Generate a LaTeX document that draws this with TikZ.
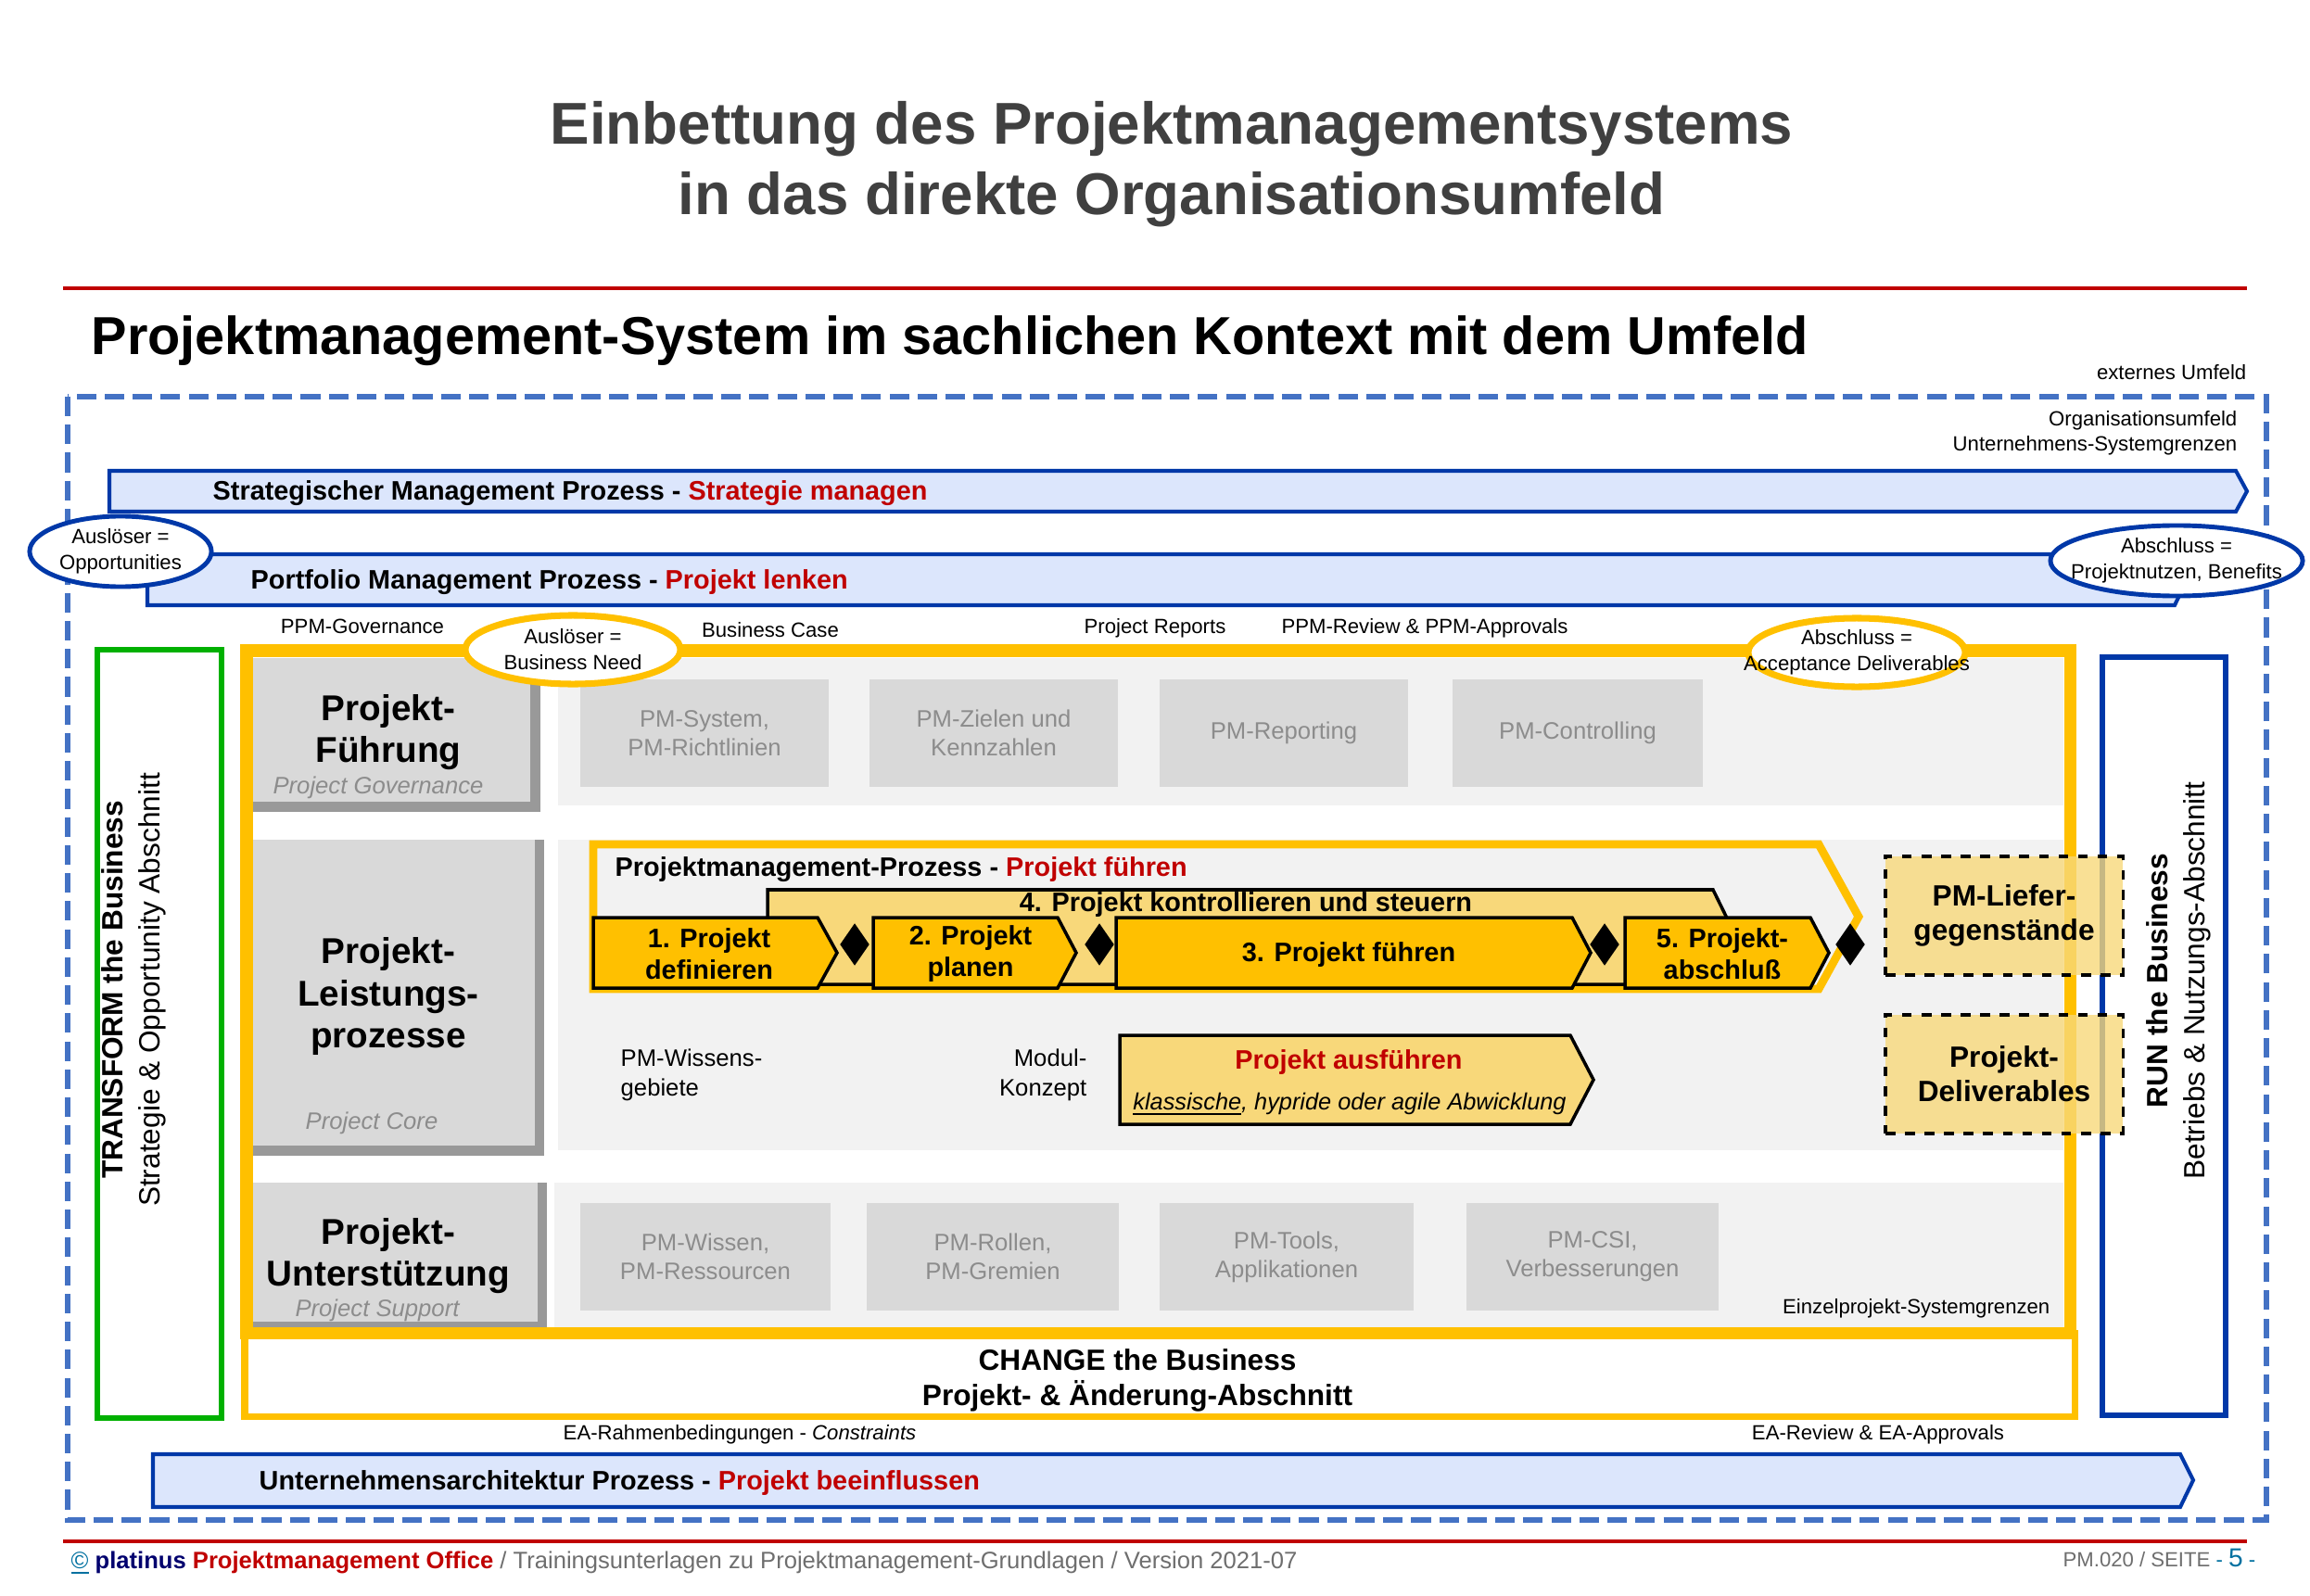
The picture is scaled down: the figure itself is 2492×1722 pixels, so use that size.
\documentclass[tikz,border=0pt]{standalone}
\usepackage{fontspec}
\setmainfont{Liberation Sans}
\usetikzlibrary{shapes.geometric}
\definecolor{pmRed}{RGB}{192,0,0}
\definecolor{pmNavy}{RGB}{0,56,168}
\definecolor{pmDash}{RGB}{68,114,196}
\definecolor{pmLight}{RGB}{220,230,252}
\definecolor{pmGreen}{RGB}{0,176,0}
\definecolor{pmYellow}{RGB}{255,192,0}
\definecolor{pmPale}{RGB}{248,216,122}
\definecolor{pmPanel}{RGB}{242,242,242}
\definecolor{pmItem}{RGB}{217,217,217}
\definecolor{pmShadow}{RGB}{153,153,153}
\definecolor{pmGrayTxt}{RGB}{140,140,140}
\definecolor{pmTitle}{RGB}{64,64,64}
\definecolor{pmFoot}{RGB}{110,110,110}
\definecolor{pmTeal}{RGB}{0,112,160}
\definecolor{pmDeep}{RGB}{0,0,110}
\newcommand{\fsz}[2]{\fontsize{#1}{#2}\selectfont}
\tikzset{
    txt/.style={inner sep=0pt, align=center},
    small/.style={txt, font=\fsz{6.3}{8}},
    process/.style={draw=pmNavy, line width=1.15pt, fill=pmLight, line join=miter},
    proctext/.style={inner sep=0pt, anchor=base west, font=\fsz{8.2}{10}\bfseries},
    trigger/.style={ellipse, draw=pmNavy, line width=1.4pt, fill=white, inner sep=0pt},
    gate/.style={trigger, draw=pmYellow, line width=2pt},
    item/.style={rectangle, fill=pmItem, inner sep=0pt, align=center,
                 text=pmGrayTxt, font=\fsz{7.3}{8.8}, minimum height=1.16cm},
    rowtitle/.style={txt, font=\fsz{11}{13}\bfseries},
    rowsub/.style={txt, font=\fsz{7.3}{9}\itshape, text=pmGrayTxt},
    stepbox/.style={fill=pmYellow, draw=black, line width=1pt, line join=miter},
    palebox/.style={fill=pmPale, draw=black, line width=1pt, line join=miter},
    steptext/.style={txt, font=\fsz{8.2}{9.6}\bfseries},
    milestone/.style={diamond, fill=black, inner sep=0pt, minimum width=0.32cm, minimum height=0.46cm},
    result/.style={rectangle, draw=black, dashed, line width=0.9pt, fill=pmPale, fill opacity=0.8,
                   text opacity=1, minimum width=2.56cm, minimum height=1.28cm, align=center,
                   font=\fsz{9}{10.5}\bfseries, inner sep=0pt},
    section/.style={txt, rotate=90, font=\fsz{9}{11.4}}
}

\begin{document}
\begin{tikzpicture}[x=0.01cm, y=-0.01cm]
  \useasboundingbox (0,0) rectangle (2492,1722);

  % Titel
  \node[txt, anchor=base, font=\fsz{18.1}{21}\bfseries, text=pmTitle] (title1) at (1264,156) {Einbettung des Projektmanagementsystems};
  \node[txt, anchor=base, font=\fsz{18.1}{21}\bfseries, text=pmTitle] (title2) at (1264,232) {in das direkte Organisationsumfeld};
  \draw[pmRed, line width=1pt] (68,311) -- (2424,311);
  \node[txt, anchor=base west, font=\fsz{16.4}{19}\bfseries] (subtitle) at (98,383) {Projektmanagement-System im sachlichen Kontext mit dem Umfeld};
  \node[small, anchor=base east] (extern) at (2424,410) {externes Umfeld};

  % Organisationsumfeld
  \draw[pmDash, line width=1.6pt, dash pattern=on 6pt off 2.6pt] (73,428) rectangle (2445,1640);
  \node[small, anchor=base east] (orga) at (2414,460) {Organisationsumfeld};
  \node[small, anchor=base east] (grenze) at (2414,487) {Unternehmens-Systemgrenzen};

  % Prozesse oben
  \draw[process] (118,508) -- (2412,508) -- (2424,530) -- (2412,552) -- (118,552) -- cycle;
  \node[proctext] (strat) at (229,540) {Strategischer Management Prozess - \textcolor{pmRed}{Strategie managen}};
  \draw[process] (159,598) -- (2346,598) -- (2359,626) -- (2346,653) -- (159,653) -- cycle;
  \node[proctext] (portfolio) at (270,635) {Portfolio Management Prozess - \textcolor{pmRed}{Projekt lenken}};
  \node[trigger, minimum width=1.96cm, minimum height=0.76cm] (opport) at (130,595) {};
  \node[small] (opporttxt) at (opport) {Auslöser =\\Opportunities};
  \node[trigger, minimum width=2.72cm, minimum height=0.76cm] (benefit) at (2348,605) {};
  \node[small] (benefittxt) at (benefit) {Abschluss =\\Projektnutzen, Benefits};

  % Schnittstellen oben
  \node[small, anchor=base] (ppmgov) at (391,683) {PPM-Governance};
  \node[small, anchor=base] (bcase) at (831,687) {Business Case};
  \node[small, anchor=base] (reports) at (1246,683) {Project Reports};
  \node[small, anchor=base] (review) at (1537,683) {PPM-Review \& PPM-Approvals};

  % TRANSFORM / RUN
  \draw[pmGreen, line width=1.6pt] (105,701) rectangle (239,1530);
  \node[section] (transform) at (144,1068) {\textbf{TRANSFORM the Business}\\Strategie \& Opportunity Abschnitt};
  \draw[pmNavy, line width=1.5pt] (2268,709) rectangle (2401,1527);
  \node[section] (run) at (2350,1058) {\textbf{RUN the Business}\\Betriebs \& Nutzungs-Abschnitt};

  % Zeilen
  \fill[pmPanel] (602,710) rectangle (2226,869);
  \fill[pmPanel] (602,906) rectangle (2226,1241);
  \fill[pmPanel] (598,1276) rectangle (2226,1432);
  \fill[pmShadow] (273,710) rectangle (583,876);
  \fill[pmItem] (273,710) rectangle (572,865);
  \fill[pmShadow] (273,906) rectangle (587,1247);
  \fill[pmItem] (273,906) rectangle (577,1236);
  \fill[pmShadow] (273,1276) rectangle (590,1432);
  \fill[pmItem] (273,1276) rectangle (580,1426);

  \node[rowtitle] (fuehrung) at (419,790) {Projekt-\\Führung};
  \node[rowsub, anchor=base] (gov) at (408,856) {Project Governance};
  \node[rowtitle] (leistung) at (419,1075) {Projekt-\\Leistungs-\\prozesse};
  \node[rowsub, anchor=base] (core) at (401,1218) {Project Core};
  \node[rowtitle] (support) at (419,1355) {Projekt-\\Unterstützung};
  \node[rowsub, anchor=base] (supp) at (407,1420) {Project Support};

  \node[item, minimum width=2.67cm] (system) at (760,791) {PM-System,\\PM-Richtlinien};
  \node[item, minimum width=2.68cm] (ziele) at (1072,791) {PM-Zielen und\\Kennzahlen};
  \node[item, minimum width=2.68cm] (reporting) at (1385,791) {PM-Reporting};
  \node[item, minimum width=2.69cm] (controlling) at (1702,791) {PM-Controlling};

  \node[item, minimum width=2.69cm] (wissen) at (761,1356) {PM-Wissen,\\PM-Ressourcen};
  \node[item, minimum width=2.71cm] (rollen) at (1071,1356) {PM-Rollen,\\PM-Gremien};
  \node[item, minimum width=2.74cm] (tools) at (1388,1356) {PM-Tools,\\Applikationen};
  \node[item, minimum width=2.71cm] (csi) at (1718,1356) {PM-CSI,\\Verbesserungen};

  % Einzelprojekt
  \draw[pmYellow, line width=3.7pt] (266,702) rectangle (2233,1438);
  \draw[pmYellow, line width=2pt] (264,1438) rectangle (2238,1528);
  \node[txt, font=\fsz{9}{10.8}\bfseries] (change) at (1227,1489) {CHANGE the Business\\Projekt- \& Änderung-Abschnitt};
  \node[small, anchor=base east] (einzel) at (2212,1417) {Einzelprojekt-Systemgrenzen};

  % Projektmanagement-Prozess
  \draw[pmYellow, line width=2.5pt, line join=miter] (640,911) -- (1962,911) -- (2005,989) -- (1962,1067) -- (640,1067) -- cycle;
  \node[proctext] (pmproc) at (663,945) {Projektmanagement-Prozess - \textcolor{pmRed}{Projekt führen}};
  \draw[palebox] (828,960) -- (1848,960) -- (1873,1011) -- (1848,1062) -- (828,1062) -- cycle;
  \node[steptext] (step4) at (1344,976) {4. Projekt kontrollieren und steuern};
  \draw[stepbox] (640,990) -- (882,990) -- (903,1028) -- (882,1066) -- (640,1066) -- cycle;
  \node[steptext] (step1) at (765,1029) {1. Projekt\\definieren};
  \draw[stepbox] (942,990) -- (1141,990) -- (1161,1028) -- (1141,1066) -- (942,1066) -- cycle;
  \node[steptext] (step2) at (1047,1029) {2. Projekt\\planen};
  \draw[stepbox] (1204,990) -- (1696,990) -- (1716,1028) -- (1696,1066) -- (1204,1066) -- cycle;
  \node[steptext] (step3) at (1455,1030) {3. Projekt führen};
  \draw[stepbox] (1753,990) -- (1953,990) -- (1973,1028) -- (1953,1066) -- (1753,1066) -- cycle;
  \node[steptext] (step5) at (1858,1029) {5. Projekt-\\abschluß};
  \node[milestone] (ms1) at (922,1019) {};
  \node[milestone] (ms2) at (1186,1019) {};
  \node[milestone] (ms3) at (1731,1019) {};
  \node[milestone] (ms4) at (1996,1019) {};

  \node[txt, anchor=west, align=left, font=\fsz{7.3}{9.1}] (gebiete) at (669,1160) {PM-Wissens-\\gebiete};
  \node[txt, anchor=east, align=right, font=\fsz{7.3}{9.1}] (modul) at (1173,1160) {Modul-\\Konzept};
  \draw[palebox] (1208,1117) -- (1694,1117) -- (1719,1165) -- (1694,1213) -- (1208,1213) -- cycle;
  \node[steptext, anchor=base, text=pmRed] (ausfuehren) at (1455,1153) {Projekt ausführen};
  \node[txt, anchor=base, font=\fsz{7.2}{9}\itshape] (abwicklung) at (1456,1197) {\underline{klassische}, hypride oder agile Abwicklung};

  \node[result] (liefer) at (2162,988) {PM-Liefer-\\gegenstände};
  \node[result] (deliver) at (2162,1159) {Projekt-\\Deliverables};

  \node[gate, minimum width=2.32cm, minimum height=0.74cm] (need) at (618,701) {};
  \node[small] (needtxt) at (need) {Auslöser =\\Business Need};
  \node[gate, minimum width=2.34cm, minimum height=0.74cm] (accept) at (2003,704) {};
  \node[small] (accepttxt) at (accept) {Abschluss =\\Acceptance Deliverables};

  % EA
  \node[small, anchor=base] (earahmen) at (798,1553) {EA-Rahmenbedingungen - \textit{Constraints}};
  \node[small, anchor=base] (eareview) at (2026,1553) {EA-Review \& EA-Approvals};
  \draw[process] (165,1569) -- (2352,1569) -- (2366,1597) -- (2352,1626) -- (165,1626) -- cycle;
  \node[proctext] (ea) at (279,1607) {Unternehmensarchitektur Prozess - \textcolor{pmRed}{Projekt beeinflussen}};

  % Fusszeile
  \draw[pmRed, line width=1pt] (68,1663) -- (2424,1663);
  \node[txt, anchor=base west, font=\fsz{7.28}{8}, text=pmFoot] (foot) at (76,1692)
    {\textcolor{pmTeal}{\underline{©}} \textbf{\textcolor{pmDeep}{platinus}} \textbf{\textcolor{pmRed}{Projektmanagement Office}} / Trainingsunterlagen zu Projektmanagement-Grundlagen / Version 2021-07};
  \node[txt, anchor=base east, font=\fsz{6.3}{8}, text=pmFoot] (page) at (2434,1690)
    {PM.020 / SEITE \textcolor{pmTeal}{- {\fsz{8}{9}5} -}};
\end{tikzpicture}
\end{document}
